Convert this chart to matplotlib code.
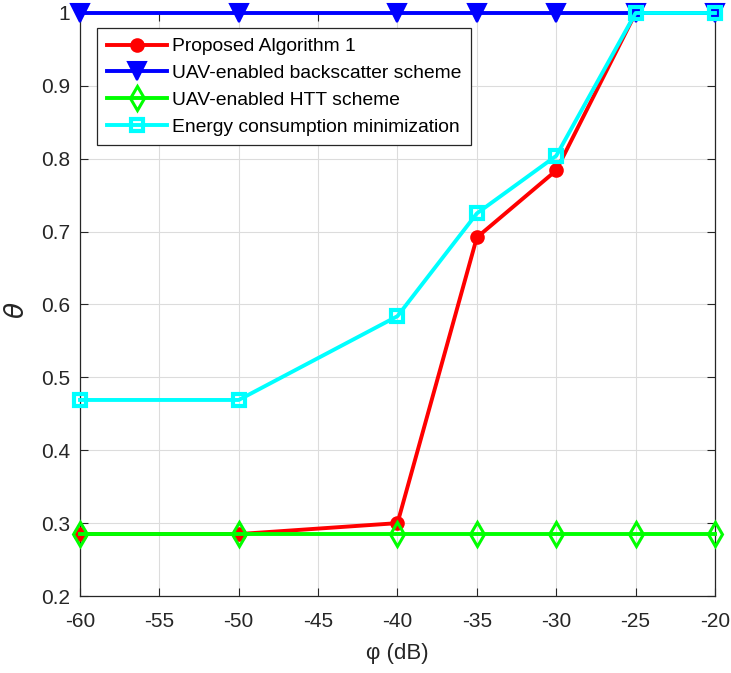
import numpy as np
import matplotlib.pyplot as plt

plt.rcParams['font.family'] = ['Liberation Sans', 'DejaVu Sans']
plt.rcParams['axes.unicode_minus'] = False

phi = [-60, -50, -40, -35, -30, -25, -20]
proposed = [0.285, 0.285, 0.300, 0.692, 0.784, 1.0, 1.0]
backscatter = [1.0, 1.0, 1.0, 1.0, 1.0, 1.0, 1.0]
htt = [0.285, 0.285, 0.285, 0.285, 0.285, 0.285, 0.285]
energy_min = [0.469, 0.469, 0.584, 0.725, 0.804, 1.0, 1.0]

fig = plt.figure(figsize=(7.31, 6.73), dpi=100)
ax = fig.add_axes([0.1094, 0.1144, 0.8687, 0.8663])

lw = 2.8
ax.plot(phi, proposed, color='red', lw=lw, marker='o', ms=9, mfc='red', mew=1.5,
        label='Proposed Algorithm 1', zorder=3, clip_on=False)
ax.plot(phi, backscatter, color='blue', lw=lw, marker='v', ms=13, mfc='blue', mew=1.5,
        label='UAV-enabled backscatter scheme', zorder=3, clip_on=False)
ax.plot(phi, htt, color='#00ff00', lw=lw, marker='d', ms=12, mfc='none', mew=2.2,
        label='UAV-enabled HTT scheme', zorder=4, clip_on=False)
ax.plot(phi, energy_min, color='cyan', lw=lw, marker='s', ms=8.5, mfc='none', mew=3,
        label='Energy consumption minimization', zorder=3, clip_on=False)

ax.set_xlim(-60, -20)
ax.set_ylim(0.2, 1.0)
ax.set_xticks(np.arange(-60, -19, 5))
ax.set_yticks(np.arange(0.2, 1.01, 0.1))
ax.set_yticklabels(['0.2', '0.3', '0.4', '0.5', '0.6', '0.7', '0.8', '0.9', '1'])
ax.tick_params(direction='in', labelsize=15, length=6, top=True, right=True,
               colors='#262626')
ax.tick_params(axis='x', pad=11.5)
ax.tick_params(axis='y', pad=7)
ax.grid(True, color='#dcdcdc', lw=0.8)
for s in ax.spines.values():
    s.set_color('#262626')
    s.set_linewidth(0.9)

ax.set_xlabel('φ (dB)', fontsize=16, color='#262626', labelpad=9)
ax.set_ylabel(r'$\theta$', fontsize=19, color='#262626')
ax.yaxis.set_label_coords(-0.08, 0.49)

leg = ax.legend(loc='upper left', bbox_to_anchor=(0.027, 0.974), fontsize=13.9,
                fancybox=False, framealpha=1, edgecolor='#262626',
                handlelength=3.1, handletextpad=0.3, borderpad=0.5,
                labelspacing=0.48, borderaxespad=0)
leg.get_frame().set_linewidth(0.9)

fig.savefig('out.png', dpi=100)
